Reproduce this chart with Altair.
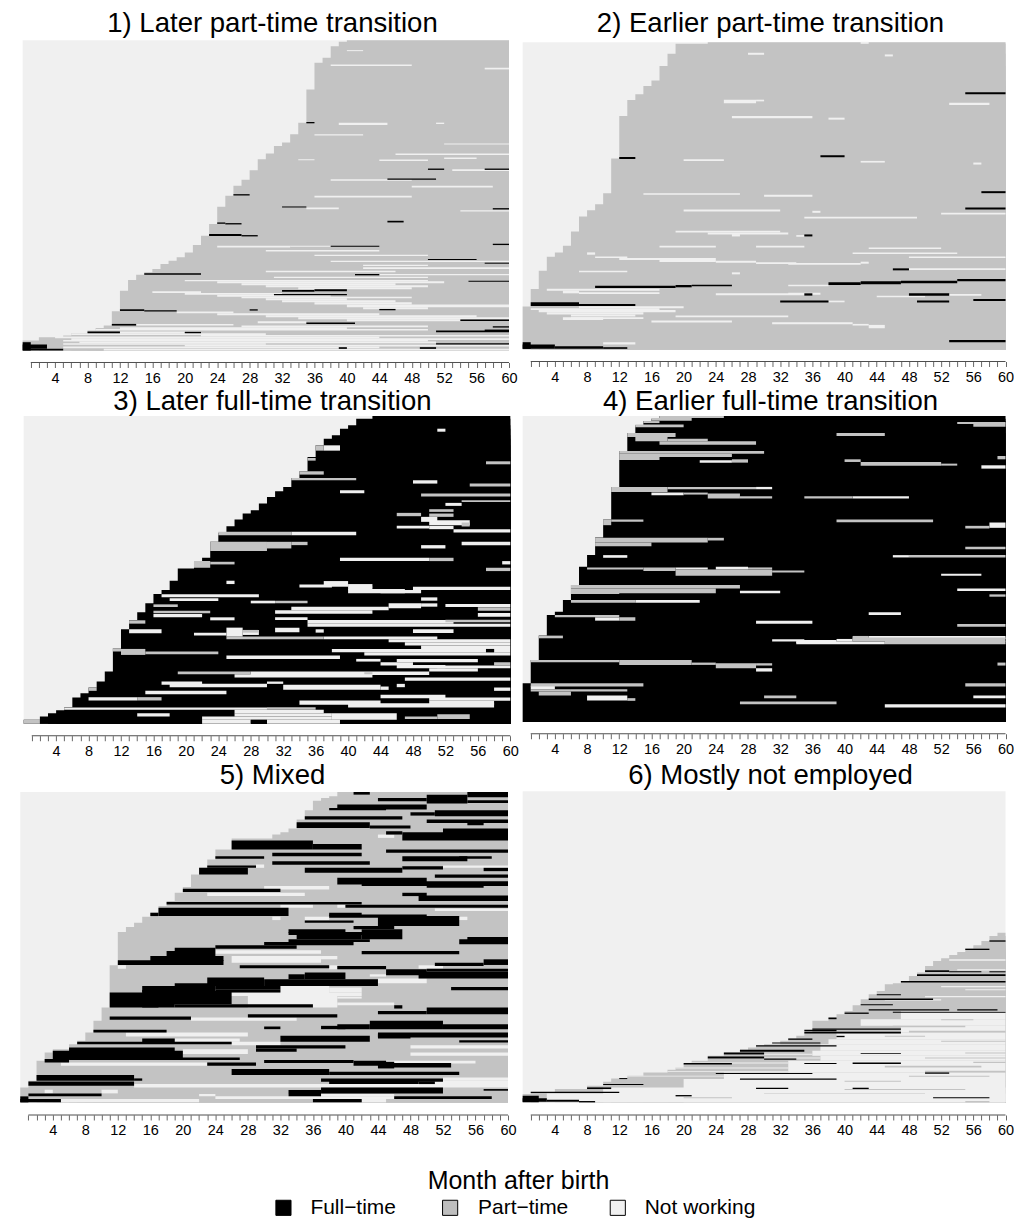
import altair as alt
import pandas as pd

FONT = "Liberation Sans"
STATES = ["Full\u2212time", "Part\u2212time", "Not working"]
STATE_COLORS = ["#000000", "#BEBEBE", "#F0F0F0"]
F, P, N = STATES
MONTHS = list(range(1, 61))

TITLES = ["1) Later part-time transition", "2) Earlier part-time transition",
          "3) Later full-time transition", "4) Earlier full-time transition",
          "5) Mixed", "6) Mostly not employed"]

# first month in work per row block: (row position of block top, months not employed)
s1 = [(117,40),(122,39),(135,38),(170,37),(185,36),(265,35),(365,34),(400,33),(425,32),(435,31),(458,30),(475,29),(508,28),(537,27),(555,26),(585,25),(618,24),(670,23),(705,22),(733,21),(755,20),(770,19),(780,18),(790,17),(805,16),(815,15),(822,14),(838,13),(870,12),(932,11),(975,10),(982,9),(990,8),(997,6),(1005,5),(1010,2),(1020,0)]
s2 = [(123,23),(128,19),(158,18),(195,17),(238,16),(255,15),(280,14),(297,13),(345,12),(473,11),(577,10),(610,9),(628,8),(647,7),(692,6),(735,5),(755,4),(768,3),(810,2),(865,1),(918,0)]
s3 = [(92,43),(100,41),(120,40),(130,39),(150,38),(160,37),(180,36),(215,35),(258,34),(278,33),(305,32),(318,31),(335,30),(355,29),(375,28),(385,27),(403,26),(423,25),(443,24),(470,23),(518,22),(530,21),(550,19),(587,18),(615,17),(627,16),(655,15),(682,14),(705,13),(733,12),(790,11),(860,10),(890,9),(908,8),(925,7),(938,6),(967,5),(976,4),(985,3),(995,2),(1005,0)]
s4 = [(92,17),(100,16),(107,15),(120,14),(143,13),(197,12),(305,11),(403,10),(457,9),(510,8),(545,7),(600,6),(645,5),(680,4),(690,3),(752,2),(825,1),(895,0)]
s5 = [(97,39),(110,38),(115,37),(123,36),(152,35),(180,34),(207,33),(218,32),(225,31),(237,26),(270,24),(300,23),(325,22),(345,21),(383,20),(400,19),(425,18),(440,17),(460,16),(472,15),(490,14),(503,13),(518,12),(618,11),(745,10),(785,9),(820,8),(845,7),(855,6),(870,4),(880,3),(905,2),(965,1),(985,0)]
s6 = [(520,59),(530,58),(545,57),(558,56),(568,55),(578,54),(587,53),(597,52),(605,51),(620,50),(640,49),(650,48),(665,47),(672,46),(675,45),(695,44),(705,43),(720,42),(738,41),(755,40),(765,39),(775,38),(785,36),(820,35),(830,34),(838,33),(845,32),(855,30),(860,29),(865,28),(872,27),(880,25),(890,23),(905,21),(915,20),(925,19),(932,18),(940,15),(950,13),(958,11),(968,10),(980,8),(990,4),(1000,1),(1005,0)]

# spells drawn on top: (row top, row bottom, from month, to month)
n1 = [(147,150,40,42),(190,195,38,48),(200,205,57,60),(365,372,39,45),(365,369,51,52),(400,404,36,42),(428,431,52,60),(458,462,46,60),(475,478,34,36),(476,480,44,50),(470,474,52,56),(505,510,53,60),(535,540,38,48),(555,560,48,58),(585,590,36,48),(620,625,35,39),(628,632,54,60),(735,740,24,33),(735,738,33,38),
(748,752,30,44),(762,766,36,50),(780,784,38,60),(792,796,42,50),(800,805,42,60),(810,815,30,46),(820,824,44,60),(828,832,31,50),(838,842,20,50),(842,848,24,52),(848,854,27,46),(854,860,30,50),(860,866,34,48),(872,877,16,22),(877,882,20,32),(882,888,24,38),(888,893,27,48),(893,899,30,40),(899,905,32,46),(905,912,36,48),(912,920,40,60),(920,926,42,50),(933,938,19,26),(938,944,24,44),(944,950,30,56),(950,956,34,60),(956,962,40,54),(962,968,29,35),(970,975,14,26),(975,980,27,50),(980,985,12,40),(985,990,9,50),(993,998,12,20),(998,1003,6,30),(1003,1008,22,60),(1008,1013,4,44),(1013,1018,6,60),(1018,1023,5,50),(1023,1028,7,51),(1028,1033,5,30),(1033,1038,20,60),(1038,1043,5,44),(1045,1050,10,60)]
p1 = []
f1 = [(363,367,35,36),(503,507,50,52),(503,507,57,60),(533,537,45,51),(580,584,26,28),(617,620,32,35),(622,626,58,60),(665,669,24,25),(667,671,25,27),(700,706,23,27),(703,707,27,29),(735,738,38,44),(729,733,58,60),(660,665,45,47),(775,778,50,56),(786,789,57,60),(818,822,15,22),(820,824,41,44),(840,843,55,60),(868,873,32,36),(866,872,36,40),(880,884,31,40),(926,931,12,15),(929,933,15,19),(926,930,28,29),(925,929,44,46),(970,975,11,14),(966,970,35,41),(957,961,54,60),(977,981,58,60),(993,998,8,12),(994,998,20,22),(990,995,51,60),(987,993,57,60),(1028,1032,51,60),(1040,1045,49,51),(1040,1045,39,40),(1025,1050,0,1),(1032,1045,0,3),(1045,1050,0,5)]

n2 = [(155,161,28,30),(160,166,45,46),(122,128,42,43),(296,307,25,29),(296,301,29,30),(305,312,53,58),(345,352,26,36),(350,356,38,40),(475,480,20,25),(480,485,42,45),(485,491,56,57),(577,582,15,27),(582,588,30,36),(626,632,20,32),(630,636,36,37),(648,653,35,49),(636,641,52,60),(690,695,19,32),(695,701,23,33),(700,707,26,27),(703,708,34,35),(735,740,17,24),(735,740,29,35),(740,745,43,52),(755,760,41,54),(755,762,8,9),(767,772,9,13),(772,778,12,24),(767,772,48,60),(778,784,17,24),(780,786,24,29),(785,790,29,34),(787,792,33,42),(783,789,42,43),(810,815,7,13),(803,808,48,60),(815,821,26,27),(852,857,33,38),(864,870,3,17),(870,878,5,7),(875,880,7,17),(878,884,24,36),(876,882,33,37),(885,890,44,50),(880,885,53,57),(900,905,38,40),(917,923,7,20),(923,928,1,17),(928,935,2,19),(935,942,3,15),(942,948,6,14),(945,950,19,33),(950,958,5,10),(950,955,6,15),(960,966,16,26),(965,971,31,41),(970,975,41,43),(973,983,43,45),(1025,1032,10,14)]
p2 = []
f2 = [(274,280,55,60),(468,474,12,14),(463,469,37,40),(571,577,57,60),(620,626,55,60),(701,707,35,36),(855,862,9,19),(853,860,19,21),(852,857,21,26),(845,853,38,42),(842,851,42,47),(840,848,47,54),(835,842,54,60),(803,809,46,48),(878,885,35,36),(878,885,48,53),(900,906,32,38),(900,906,49,53),(895,901,56,60),(905,916,1,7),(910,916,7,14),(1018,1025,53,60),(1025,1045,0,1),(1032,1045,0,4),(1037,1045,4,10),(1040,1045,10,13)]

n3 = [(130,139,51,52),(180,196,37,39),(285,295,48,51),(315,324,39,42),(353,362,52,54),(395,410,49,51),(405,420,50,55),(422,430,46,50),(422,432,50,53),(432,442,53,60),(440,450,33,41),(480,490,49,52),(470,480,54,60),(518,528,39,50),(528,538,59,60),(587,597,25,26),(598,607,34,38),(588,605,37,40),(597,607,40,43),(605,615,40,43),(612,625,40,47),(615,625,44,49),(605,615,48,60),(628,637,17,29),(640,648,18,24),(637,647,49,51),(655,665,49,51),(657,666,52,60),(647,655,28,31),(655,670,45,49),(665,676,33,45),(676,686,31,43),(687,697,16,22),(697,706,23,26),(697,705,31,35),(684,695,56,60),(705,716,35,53),(716,725,35,60),(733,745,13,17),(728,755,25,27),(735,750,27,29),(728,742,31,34),(733,743,36,37),(733,744,48,53),(743,752,21,25),(755,763,37,51),(763,772,45,60),(772,782,47,60),(782,792,49,60),(792,802,38,57),(792,802,58,60),(802,812,42,60),(812,822,25,39),(822,830,41,44),(822,832,46,56),(832,842,44,48),(840,850,46,52),(850,860,50,56),(842,850,51,60),(868,878,26,43),(860,870,28,50),(878,888,47,60),(890,900,17,22),(897,907,18,30),(890,897,30,32),(900,915,32,44),(905,915,44,45),(897,907,46,47),(918,928,15,25),(908,918,58,60),(937,947,8,14),(930,940,44,52),(938,948,50,60),(947,960,34,44),(955,968,40,58),(948,960,50,58),(968,975,5,30),(975,985,26,37),(985,995,14,18),(985,995,26,38),(985,1005,38,46),(995,1005,22,38),(1005,1017,22,28),(1005,1017,30,39)]
p3 = [(180,196,36,37),(218,226,35,36),(228,237,57,60),(258,268,34,37),(278,285,33,41),(295,304,55,60),(325,334,49,60),(345,350,54,60),(372,380,50,53),(385,395,50,53),(383,393,46,49),(412,424,54,55),(440,450,24,33),(470,498,23,30),(470,490,30,33),(470,480,33,35),(518,528,50,53),(528,548,21,23),(530,538,23,26),(548,558,57,60),(647,655,31,35),(658,666,16,19),(667,677,56,60),(677,685,16,23),(706,716,13,15),(704,712,52,60),(735,743,27,29),(755,763,25,37),(792,810,12,15),(800,808,15,24),(790,800,11,12),(832,842,58,60),(860,868,19,28),(862,868,42,43),(908,918,8,9),(937,947,14,17),(967,975,30,36),(995,1003,47,51),(988,1003,51,55),(1005,1017,0,2)]
f3 = [(792,802,57,58),(1005,1015,28,30)]

n4 = [(225,232,22,26),(240,250,57,60),(305,312,29,31),(322,330,16,20),(333,340,41,48),(412,428,58,60),(510,518,10,13),(510,517,46,48),(547,553,19,23),(545,553,24,28),(566,572,52,57),(617,625,27,32),(610,618,54,60),(645,653,14,22),(682,690,43,47),(697,707,9,12),(707,716,29,36),(763,770,31,35),(765,775,34,39),(753,762,43,60),(762,770,39,41),(770,778,34,45),(850,860,29,31),(903,913,1,4),(932,947,8,13),(932,940,56,60),(958,968,45,60)]
p4 = [(92,98,17,25),(98,106,16,21),(107,113,15,17),(117,126,14,20),(143,155,13,19),(152,168,14,18),(160,168,18,23),(168,178,17,29),(197,205,12,30),(205,215,12,26),(215,224,12,17),(222,232,26,28),(222,230,40,42),(230,241,42,52),(235,241,52,54),(212,222,59,60),(110,116,54,60),(115,124,56,60),(143,152,39,45),(305,320,11,18),(305,312,18,29),(322,328,20,23),(325,340,23,27),(333,340,27,31),(333,340,35,41),(403,411,39,51),(403,420,10,11),(403,410,11,15),(422,430,55,58),(458,472,9,23),(472,483,9,16),(458,466,23,25),(485,492,55,60),(510,517,48,60),(547,553,8,15),(547,558,15,19),(553,572,19,31),(547,553,28,31),(556,562,31,35),(600,610,6,27),(610,625,6,24),(617,627,6,12),(628,635,58,60),(645,653,6,14),(690,697,4,12),(697,707,12,14),(717,725,54,60),(752,760,2,5),(753,762,41,43),(758,770,41,60),(768,778,45,60),(825,832,1,12),(825,840,12,21),(833,840,21,24),(835,850,24,29),(835,842,29,31),(833,842,59,60),(895,905,1,15),(913,920,1,6),(913,920,6,13),(920,932,2,6),(940,948,13,14),(932,940,30,34),(950,958,27,39),(895,905,55,60)]
f4 = []

n5 = [(225,235,44,46),(315,325,29,30),(318,325,52,60),(380,390,30,38),(400,410,23,35),(435,445,32,36),(435,445,39,40),(472,482,31,32),(472,482,35,38),(447,455,51,60),(472,482,52,55),(573,583,24,37),(590,610,26,37),(590,600,37,39),(618,628,12,13),(618,630,38,39),(618,628,49,52),(645,652,43,45),(658,672,44,50),(680,705,32,38),(685,700,38,42),(700,710,25,42),(710,745,28,39),(712,718,39,42),(730,738,39,46),(775,785,21,34),(820,832,13,28),(838,848,19,27),(848,858,26,32),(858,868,48,60),(870,885,20,28),(880,890,48,60),(905,913,45,56),(910,920,5,23),(955,965,52,60),(965,978,51,60),(975,985,14,60),(992,1003,3,4),(992,1003,10,12),(1005,1012,22,24),(1005,1012,33,46),(1020,1030,5,22),(1012,1020,24,46),(1020,1030,42,45)]
p5 = []
f5 = [(97,105,41,43),(97,113,55,60),(115,125,44,50),(105,132,50,55),(122,130,55,60),(135,150,39,50),(145,152,38,45),(152,170,51,60),(158,168,48,51),(170,180,35,47),(180,190,50,60),(185,197,55,57),(188,205,34,43),(198,207,43,48),(207,220,52,60),(218,243,47,60),(215,225,45,47),(243,270,26,36),(253,270,36,42),(270,280,45,60),(290,298,24,30),(280,290,31,42),(290,305,47,55),(290,298,54,58),(305,316,31,43),(318,325,23,29),(325,345,22,28),(325,340,35,47),(320,330,47,52),(325,335,57,60),(345,355,51,60),(355,375,39,50),(365,380,42,60),(372,385,50,57),(388,398,20,32),(400,410,47,50),(408,425,49,60),(428,435,18,42),(436,445,40,60),(445,470,17,33),(460,470,16,17),(460,470,38,42),(465,475,38,50),(470,500,44,54),(483,490,35,41),(500,510,41,46),(510,520,33,40),(518,527,33,44),(510,540,42,47),(527,540,34,42),(540,548,33,43),(548,558,30,41),(558,568,24,34),(565,575,19,24),(575,590,18,24),(590,605,16,25),(603,617,12,25),(575,585,42,54),(533,547,55,60),(540,555,54,60),(600,617,57,60),(610,620,51,57),(618,627,27,38),(620,630,39,45),(630,648,45,50),(628,637,50,60),(637,658,49,60),(640,660,35,40),(645,660,33,35),(655,680,23,30),(660,680,30,44),(683,693,53,60),(680,690,24,32),(672,690,19,24),(680,700,15,24),(690,700,24,32),(700,745,11,17),(692,745,15,19),(695,735,17,26),(735,745,19,36),(738,748,46,47),(745,765,50,60),(755,765,44,50),(772,782,11,21),(765,775,28,39),(802,810,30,32),(800,810,37,40),(795,810,39,43),(785,810,43,52),(795,810,52,60),(812,820,9,18),(820,835,44,60),(825,838,44,48),(830,848,32,43),(843,850,54,60),(838,850,15,19),(848,855,7,26),(858,868,29,40),(868,878,29,34),(865,895,6,19),(875,900,4,20),(900,910,3,6),(895,903,6,27),(910,920,23,29),(903,912,30,41),(905,920,41,45),(908,928,44,46),(912,925,45,53),(930,948,26,38),(938,948,38,54),(948,965,2,14),(958,965,14,15),(958,968,37,52),(965,975,38,49),(967,975,49,51),(967,980,1,14),(985,1003,37,52),(993,1012,33,37),(1003,1012,1,10),(1012,1030,0,1),(1020,1030,0,5),(1020,1030,36,42),(1012,1020,46,58),(990,995,57,60)]

n6 = [(755,780,47,60),(780,800,42,60),(800,820,47,60),(820,840,39,60),(840,855,38,60),(855,875,37,60),(875,890,36,60),(890,905,37,60),(905,940,33,60),(940,960,25,60),(960,1030,20,60),(985,1030,10,60),(1003,1030,3,60),(600,604,53,60),(630,634,54,60),(680,684,52,60),(690,693,55,60),(710,714,50,60),(720,724,45,52),(884,887,25,36),(895,898,23,37),(910,913,21,33),(925,928,19,33),(936,938,18,33),(950,952,13,25)]
p6 = [(780,783,52,56),(800,804,46,55),(815,820,48,60),(830,833,45,50),(845,848,52,60),(880,883,55,60),(895,898,50,60),(908,912,56,60),(920,925,45,57),(935,940,50,60),(950,953,48,58),(965,968,40,47),(990,993,40,55),(1003,1005,30,50),(1015,1018,20,26),(1026,1030,55,58),(930,935,23,30)]
f6 = [(543,547,58,60),(568,572,55,58),(633,638,50,53),(636,639,53,57),(636,639,58,60),(645,650,49,60),(665,670,47,60),(705,708,44,47),(718,722,43,51),(735,738,42,46),(750,754,43,53),(750,754,54,59),(758,761,46,60),(760,764,40,43),(775,780,38,39),(808,812,36,47),(812,816,35,39),(818,823,35,47),(830,834,39,40),(838,842,33,36),(850,853,31,37),(858,862,29,39),(872,878,27,35),(882,885,42,47),(880,886,25,30),(892,898,23,30),(898,902,30,34),(912,916,20,26),(910,915,41,47),(912,915,35,39),(942,945,24,36),(940,944,50,53),(958,962,27,39),(957,960,12,13),(975,978,10,15),(985,990,8,11),(986,990,29,33),(986,990,41,43),(998,1002,1,12),(1008,1012,19,21),(1015,1018,51,58),(1010,1030,0,2),(1018,1028,0,3),(1022,1028,3,7),(1026,1030,7,9)]

PANELS = [
    dict(stairs=s1, base=P, top=117, bottom=1050, n=n1, p=p1, f=f1, x0=20.7, x1=508.0, off=0, ax=11, col=0, row=0, grey="#C3C3C3"),
    dict(stairs=s2, base=P, top=123, bottom=1047, n=n2, p=p2, f=f2, x0=521.7, x1=1005.5, off=0, ax=10, col=1, row=0, grey="#BEBEBE"),
    dict(stairs=s3, base=F, top=92, bottom=1017, n=n3, p=p3, f=f3, x0=21.7, x1=509.3, off=385, ax=9, col=0, row=1, grey="#BEBEBE"),
    dict(stairs=s4, base=F, top=92, bottom=1012, n=n4, p=p4, f=f4, x0=521.7, x1=1005.5, off=385, ax=7, col=1, row=1, grey="#BEBEBE"),
    dict(stairs=s5, base=P, top=97, bottom=1030, n=n5, p=p5, f=f5, x0=18.3, x1=507.0, off=760, ax=13, col=0, row=2, grey="#BEBEBE"),
    dict(stairs=s6, base=P, top=95, bottom=1030, n=n6, p=p6, f=f6, x0=521.7, x1=1005.5, off=760, ax=13, col=1, row=2, grey="#C6C6C6"),
]

FRAME_L = [20, 521]
FRAME_T = [38, 414, 790]
TITLE_OFFSET = [2, -1, 0]
W, H = 486, 313
KEY_SQUARE_X = [282, 449, 617]
KEY_TEXT_X = [309, 477, 644]
KEY_Y = 1209


def legend_layers(L, T):
    layers = []
    for st, col, sx, tx in zip(STATES, STATE_COLORS, KEY_SQUARE_X, KEY_TEXT_X):
        d = pd.DataFrame({"state": [st]})
        layers.append(alt.Chart(d).mark_square(size=230, fill=col, stroke="#000000", strokeWidth=1, opacity=1).encode(
            x=alt.value(sx - L), y=alt.value(KEY_Y - T)))
        layers.append(alt.Chart(d).mark_text(align="left", baseline="middle", font=FONT, fontSize=21, color="#000000").encode(
            x=alt.value(tx - L), y=alt.value(KEY_Y - T), text="state:N"))
    return layers


def panel(i, spec):
    recs = [dict(y0=spec["top"], y1=spec["bottom"], m0=0, m1=60, s=N)]
    for y, m in spec["stairs"]:
        recs.append(dict(y0=y, y1=spec["bottom"], m0=m, m1=60, s=spec["base"]))
    for key, st in (("n", N), ("p", P), ("f", F)):
        for y0, y1, m0, m1 in spec[key]:
            recs.append(dict(y0=y0, y1=y1, m0=m0, m1=m1, s=st))
    df = pd.DataFrame(recs)

    per = (spec["x1"] - spec["x0"]) / 60
    L = FRAME_L[spec["col"]]
    T = FRAME_T[spec["row"]]
    WL = 490 if spec["col"] == 0 else W
    xdom = [(L - spec["x0"]) / per, (L + WL - spec["x0"]) / per]
    ydom = [(T - spec["off"]) * 3, (T + H - spec["off"]) * 3]

    axis_args = dict(values=MONTHS, tickCount=60, labelExpr="datum.value % 4 == 0 ? datum.value : ''",
                     domain=False, grid=False, ticks=True, tickColor="#000000", tickSize=5, tickWidth=0.6,
                     offset=spec["ax"], labelPadding=4, labelFontSize=14.5, labelFont=FONT, labelColor="#000000",
                     labelOverlap=False, labelFlush=False, labelAngle=0, labelBound=False)
    if i == 4:
        axis_args.update(title="Month after birth", titleFont=FONT, titleFontSize=25, titleFontWeight="normal",
                         titleColor="#000000", titleX=517 - L, titleY=1182 - (T + H + spec["ax"]),
                         titleBaseline="middle", titleAlign="center")
    else:
        axis_args.update(title=None)
    xs = alt.Scale(domain=xdom, nice=False, zero=False)
    ys = alt.Scale(domain=ydom, reverse=True, nice=False, zero=False)

    rects = alt.Chart(df).mark_rect(strokeWidth=0).encode(
        x=alt.X("m0:Q", scale=xs, axis=alt.Axis(**axis_args)),
        x2="m1:Q",
        y=alt.Y("y0:Q", scale=ys, axis=None),
        y2="y1:Q",
        color=alt.Color("s:N", scale=alt.Scale(domain=STATES, range=["#000000", spec["grey"], "#F0F0F0"]), legend=None),
    )
    line = alt.Chart(pd.DataFrame({"a": [MONTHS[0]], "b": [MONTHS[-1]]})).mark_rule(color="#000000", strokeWidth=0.7).encode(
        x=alt.X("a:Q", scale=xs), x2="b:Q", y=alt.value(H + spec["ax"]))
    extra = legend_layers(L, T) if i == 5 else []
    return alt.layer(rects, line, *extra).properties(
        width=WL, height=H,
        title=alt.TitleParams(TITLES[i], font=FONT, fontSize=27.6, fontWeight="normal", color="#000000",
                              anchor="middle", dx=6, offset=TITLE_OFFSET[spec["row"]]),
    )


charts = [panel(i, s) for i, s in enumerate(PANELS)]
chart = alt.concat(*charts, columns=2, spacing=alt.RowColnumber(row=63, column=11), bounds="flush").properties(
    padding={"left": 12, "top": 0, "right": 0, "bottom": 0}
).configure_view(stroke=None)

chart.save("out.html", embed_options={"renderer": "svg", "actions": False})
